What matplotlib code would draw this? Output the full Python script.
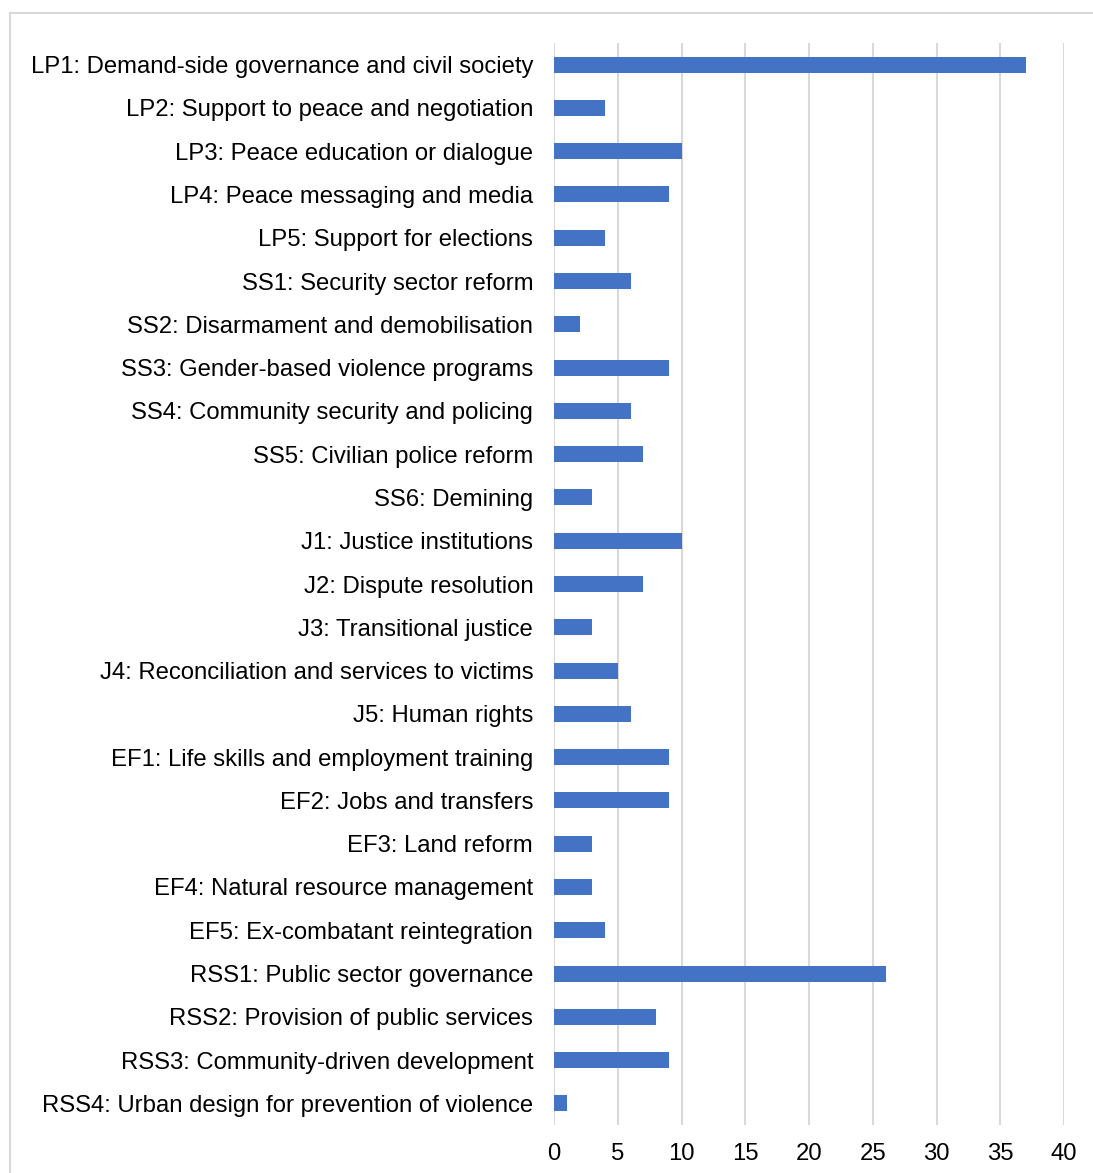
import matplotlib.pyplot as plt
from matplotlib.patches import Rectangle

plt.rcParams['font.family'] = ['Liberation Sans', 'DejaVu Sans']

categories = [
    "LP1: Demand-side governance and civil society",
    "LP2: Support to peace and negotiation",
    "LP3: Peace education or dialogue",
    "LP4: Peace messaging and media",
    "LP5: Support for elections",
    "SS1: Security sector reform",
    "SS2: Disarmament and demobilisation",
    "SS3: Gender-based violence programs",
    "SS4: Community security and policing",
    "SS5: Civilian police reform",
    "SS6: Demining",
    "J1: Justice institutions",
    "J2: Dispute resolution",
    "J3: Transitional justice",
    "J4: Reconciliation and services to victims",
    "J5: Human rights",
    "EF1: Life skills and employment training",
    "EF2: Jobs and transfers",
    "EF3: Land reform",
    "EF4: Natural resource management",
    "EF5: Ex-combatant reintegration",
    "RSS1: Public sector governance",
    "RSS2: Provision of public services",
    "RSS3: Community-driven development",
    "RSS4: Urban design for prevention of violence",
]
counts = [37, 4, 10, 9, 4, 6, 2, 9, 6, 7, 3, 10, 7, 3, 5, 6, 9, 9, 3, 3, 4, 26, 8, 9, 1]
xticks = [0, 5, 10, 15, 20, 25, 30, 35, 40]

fig = plt.figure(figsize=(10.93, 11.73), dpi=100)
ax = fig.add_axes([554 / 1093, 1 - 1125 / 1173, 510 / 1093, 1082 / 1173])

# light frame around the chart area
fig.patches.append(Rectangle((10 / 1093, -0.01), 1.1, 1 - 13 / 1173 + 0.01,
                             transform=fig.transFigure, fill=False,
                             edgecolor='#d9d9d9', linewidth=1.5))

y = list(range(len(categories)))
ax.barh(y, counts, height=0.37, color='#4472c4', zorder=3)
ax.set_ylim(len(categories) - 0.5, -0.5)
ax.set_xlim(0, 40)
ax.set_xticks(xticks)
ax.set_yticks(y)
ax.set_yticklabels(categories)
ax.tick_params(axis='y', length=0, pad=15, labelsize=17.2, labelcolor='#000000')
ax.tick_params(axis='x', length=0, pad=13, labelsize=17.2, labelcolor='#000000')
ax.grid(axis='x', color='#d9d9d9', linewidth=1.5, zorder=0)
for s in ax.spines.values():
    s.set_visible(False)

fig.savefig('out.png', dpi=100)
